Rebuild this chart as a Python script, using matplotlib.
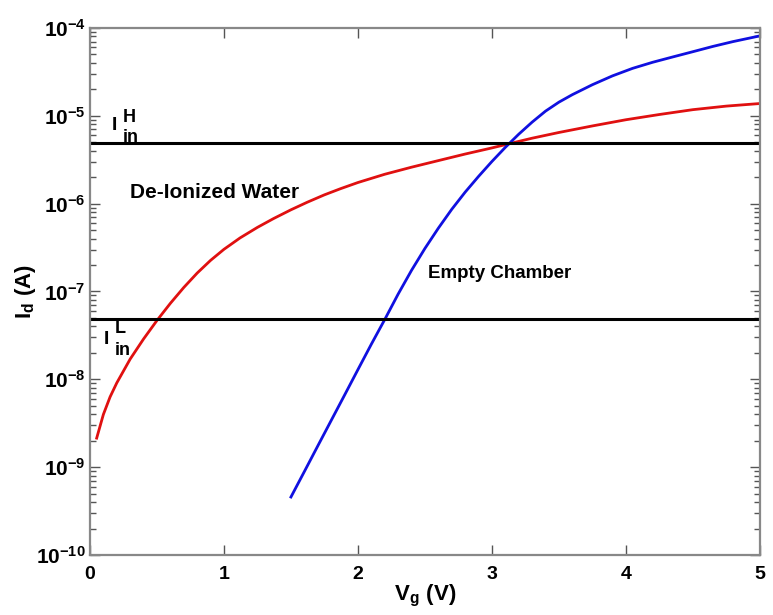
import numpy as np
import matplotlib
matplotlib.use("Agg")
import matplotlib.pyplot as plt
from matplotlib.ticker import LogLocator, NullFormatter, FixedLocator

plt.rcParams['font.family'] = ['Liberation Sans', 'DejaVu Sans']
plt.rcParams['font.weight'] = 'bold'
plt.rcParams['mathtext.fontset'] = 'custom'
plt.rcParams['mathtext.rm'] = 'Liberation Sans:bold'
plt.rcParams['mathtext.bf'] = 'Liberation Sans:bold'
plt.rcParams['mathtext.it'] = 'Liberation Sans:bold'
plt.rcParams['mathtext.default'] = 'bf'

# De-Ionized Water (red)
vg_water = [0.05, 0.1, 0.15, 0.2, 0.3, 0.4, 0.5, 0.6, 0.7, 0.8, 0.9, 1.0,
            1.12, 1.25, 1.37, 1.5, 1.62, 1.75, 1.87, 2.0, 2.2, 2.4, 2.6,
            2.8, 3.0, 3.15, 3.3, 3.5, 3.75, 4.0, 4.25, 4.5, 4.75, 5.0]
id_water = [2.14e-9, 3.98e-9, 6.3e-9, 9.1e-9, 1.70e-8, 2.88e-8, 4.68e-8,
            7.33e-8, 1.11e-7, 1.62e-7, 2.26e-7, 3.02e-7, 4.07e-7, 5.37e-7,
            6.76e-7, 8.51e-7, 1.035e-6, 1.26e-6, 1.48e-6, 1.74e-6, 2.16e-6,
            2.6e-6, 3.09e-6, 3.67e-6, 4.31e-6, 4.9e-6, 5.56e-6, 6.46e-6,
            7.67e-6, 9.02e-6, 1.035e-5, 1.175e-5, 1.29e-5, 1.38e-5]

# Empty Chamber (blue)
vg_empty = [1.5, 1.6, 1.7, 1.8, 1.9, 2.0, 2.1, 2.2, 2.3, 2.4, 2.5, 2.6,
            2.7, 2.8, 2.9, 3.0, 3.1, 3.2, 3.3, 3.4, 3.5, 3.6, 3.75, 3.9,
            4.05, 4.2, 4.35, 4.5, 4.65, 4.8, 5.0]
id_empty = [4.57e-10, 8.9e-10, 1.74e-9, 3.39e-9, 6.6e-9, 1.29e-8, 2.51e-8,
            4.79e-8, 9.33e-8, 1.74e-7, 3.09e-7, 5.25e-7, 8.61e-7, 1.35e-6,
            2.04e-6, 3.02e-6, 4.37e-6, 6.17e-6, 8.47e-6, 1.13e-5, 1.43e-5,
            1.74e-5, 2.26e-5, 2.85e-5, 3.47e-5, 4.07e-5, 4.68e-5, 5.37e-5,
            6.17e-5, 7.0e-5, 8.13e-5]

i_in_high = 4.87e-6
i_in_low = 4.8e-8

x_ticks = [0, 1, 2, 3, 4, 5]
y_ticks = [1e-10, 1e-9, 1e-8, 1e-7, 1e-6, 1e-5, 1e-4]
y_ticklabels = [r'$10^{-10}$', r'$10^{-9}$', r'$10^{-8}$', r'$10^{-7}$',
                r'$10^{-6}$', r'$10^{-5}$', r'$10^{-4}$']

fig = plt.figure(figsize=(7.73, 6.15), dpi=100)
ax = fig.add_axes([0.1164, 0.0976, 0.8666, 0.8569])

ax.plot(vg_water, id_water, color='#e01010', lw=2)
ax.plot(vg_empty, id_empty, color='#1010e0', lw=2)
ax.axhline(i_in_high, color='black', lw=2.2)
ax.axhline(i_in_low, color='black', lw=2.2)

ax.set_yscale('log')
ax.set_xlim(0, 5)
ax.set_ylim(1e-10, 1e-4)

ax.xaxis.set_major_locator(FixedLocator(x_ticks))
ax.set_xticklabels([str(t) for t in x_ticks], fontsize=14, fontweight='bold')
ax.set_yticks(y_ticks)
ax.set_yticklabels(y_ticklabels, fontsize=15)
ax.yaxis.set_minor_locator(LogLocator(base=10, subs=np.arange(2, 10), numticks=20))
ax.yaxis.set_minor_formatter(NullFormatter())

ax.tick_params(axis='both', which='major', direction='in', length=7,
               width=1, color='#555555', top=True, right=True)
ax.tick_params(axis='y', which='major', pad=3)
ax.tick_params(axis='y', which='minor', direction='in', length=4,
               width=1, color='#555555', left=True, right=True)
ax.tick_params(axis='x', which='major', pad=8)

for s in ax.spines.values():
    s.set_color('#888888')
    s.set_linewidth(1.6)

ax.set_xlabel(r'$V_g\ (V)$', fontsize=16, labelpad=0)
ax.set_ylabel(r'$I_d\ (A)$', fontsize=16)
ax.yaxis.set_label_coords(-0.078, 0.5)

ax.text(0.30, 1.16e-6, 'De-Ionized Water', fontsize=15, fontweight='bold',
        ha='left', va='baseline')
ax.text(2.52, 1.41e-7, 'Empty Chamber', fontsize=13.5, fontweight='bold',
        ha='left', va='baseline')

# I_in^H label
ax.text(0.164, 6.9e-6, 'I', fontsize=14, ha='left', va='baseline')
ax.text(0.246, 8.5e-6, 'H', fontsize=13, ha='left', va='baseline')
ax.text(0.246, 5.0e-6, 'in', fontsize=13, ha='left', va='baseline')
# I_in^L label
ax.text(0.105, 2.5e-8, 'I', fontsize=14, ha='left', va='baseline')
ax.text(0.187, 3.33e-8, 'L', fontsize=13, ha='left', va='baseline')
ax.text(0.187, 1.89e-8, 'in', fontsize=13, ha='left', va='baseline')

fig.savefig('out.png', dpi=100)
